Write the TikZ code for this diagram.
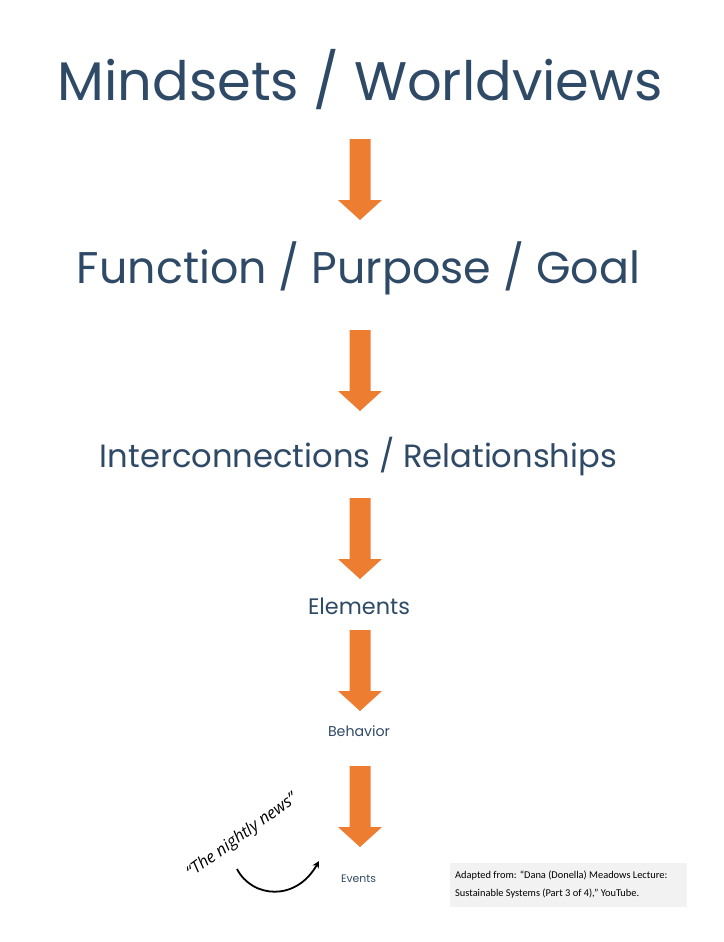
\documentclass[tikz,border=0pt]{standalone}
\usetikzlibrary{arrows.meta}
\usepackage{fontspec}
\setmainfont{Poppins}
\newfontfamily\notefont{Carlito}
\newfontfamily\handfont{Open Sans}
\usepackage{graphicx}
\definecolor{txtblue}{HTML}{2F4A66}
\definecolor{arrorange}{HTML}{ED7D31}
\definecolor{boxgray}{HTML}{F2F2F2}
\begin{document}
\begin{tikzpicture}[x=1pt,y=-1pt,
  level/.style={text=txtblue,inner sep=0pt,anchor=base},
  downarrow/.style={fill=arrorange,draw=none}]
\useasboundingbox (0,0) rectangle (723,942);
\fill[white] (0,0) rectangle (723,942);
\newcommand{\dnarrow}[1]{%
  \fill[downarrow] (349.5,#1) -- (370.5,#1) -- (370.5,#1+61) -- (382,#1+61)
   -- (360,#1+81) -- (338,#1+61) -- (349.5,#1+61) -- cycle;}
\node[level] (mind) at (360,100) {\resizebox{605pt}{!}{\fontsize{60}{70}\selectfont Mindsets / Worldviews}};
\node[level] (func) at (358.5,283) {\resizebox{563pt}{!}{\fontsize{40}{48}\selectfont Function / Purpose / Goal}};
\node[level] (inter) at (358.5,467) {\resizebox{517pt}{!}{\fontsize{30}{36}\selectfont Interconnections / Relationships}};
\node[level] (elem) at (359,614) {\resizebox{102pt}{!}{\fontsize{18}{22}\selectfont Elements}};
\node[level] (behav) at (359,736) {\resizebox{62pt}{!}{\fontsize{12}{14}\selectfont Behavior}};
\node[level] (events) at (358.5,882) {\resizebox{35pt}{!}{\fontsize{9}{11}\selectfont Events}};
\dnarrow{139}
\dnarrow{330}
\dnarrow{498}
\dnarrow{630}
\dnarrow{766}
\node[rotate=36,inner sep=0pt] (news) at (242,836) {\handfont\itshape\fontsize{16.5}{18}\selectfont “The nightly news”};
\coordinate (cs) at (237,869);
\coordinate (ce) at (319,861);
\draw[line width=1.8pt,-{Stealth[length=7pt,width=7pt]}] (cs) .. controls (252,898) and (296,902) .. (ce);
\node[fill=boxgray,minimum width=237pt,minimum height=44pt,inner sep=0pt] (box) at (568.5,885) {};
\node[anchor=west,align=left,inner sep=0pt,font=\notefont\fontsize{10.4}{17.5}\selectfont] (src) at (455,884.5)
 {Adapted from: “Dana (Donella) Meadows Lecture:\\Sustainable Systems (Part 3 of 4),” YouTube.};
\end{tikzpicture}
\end{document}
